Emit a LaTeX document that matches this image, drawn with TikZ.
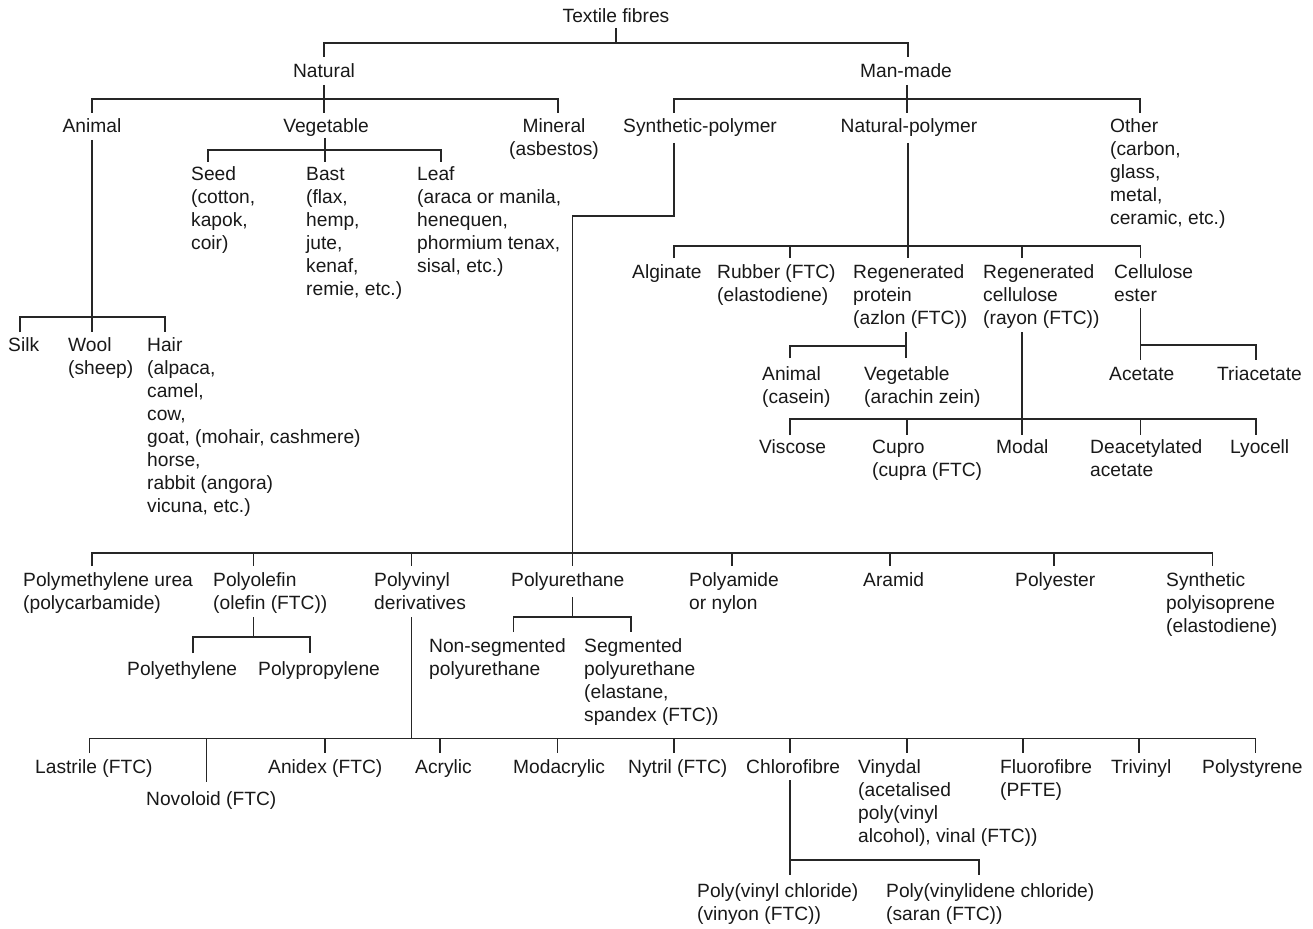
\documentclass[tikz,border=0pt]{standalone}
\usepackage{fontspec}
\setmainfont{Liberation Sans}
\newcommand\TLbox[1]{\begin{tabular}[t]{@{}l@{}}#1\end{tabular}}
\newcommand\TCbox[1]{\begin{tabular}[t]{@{}c@{}}#1\end{tabular}}
\begin{document}
\begin{tikzpicture}[x=1pt,y=-1pt,
  every node/.style={font=\fontsize{19.2}{23}\selectfont, text=black!90, inner sep=0pt},
  tl/.style={anchor=base west},
  tc/.style={anchor=base},
  ln/.style={draw=black!85, line width=1.4pt, line cap=butt, line join=miter}]
\useasboundingbox (0,0) rectangle (1313,928);
\fill[white] (0,0) rectangle (1313,928);

% ---------- nodes ----------
\node[tc] (root) at (616,23) {\TCbox{Textile fibres}};
\node[tc] (natural) at (324,78) {\TCbox{Natural}};
\node[tc] (manmade) at (906,78) {\TCbox{Man-made}};

\node[tc] (animal) at (92,133) {\TCbox{Animal}};
\node[tc] (vegetable) at (326,133) {\TCbox{Vegetable}};
\node[tc] (mineral) at (554,133) {\TCbox{Mineral\\(asbestos)}};
\node[tl] (synthetic) at (623,133) {\TLbox{Synthetic-polymer}};
\node[tc] (natpoly) at (909,133) {\TCbox{Natural-polymer}};
\node[tl] (other) at (1110,133) {\TLbox{Other\\(carbon,\\glass,\\metal,\\ceramic, etc.)}};

\node[tl] (seed) at (191,181) {\TLbox{Seed\\(cotton,\\kapok,\\coir)}};
\node[tl] (bast) at (306,181) {\TLbox{Bast\\(flax,\\hemp,\\jute,\\kenaf,\\remie, etc.)}};
\node[tl] (leaf) at (417,181) {\TLbox{Leaf\\(araca or manila,\\henequen,\\phormium tenax,\\sisal, etc.)}};

\node[tl] (silk) at (8,351) {\TLbox{Silk}};
\node[tl] (wool) at (68,351) {\TLbox{Wool\\(sheep)}};
\node[tl] (hair) at (147,351) {\TLbox{Hair\\(alpaca,\\camel,\\cow,\\goat, (mohair, cashmere)\\horse,\\rabbit (angora)\\vicuna, etc.)}};

\node[tl] (alginate) at (632,278) {\TLbox{Alginate}};
\node[tl] (rubber) at (717,278) {\TLbox{Rubber (FTC)\\(elastodiene)}};
\node[tl] (regprot) at (853,278) {\TLbox{Regenerated\\protein\\(azlon (FTC))}};
\node[tl] (regcell) at (983,278) {\TLbox{Regenerated\\cellulose\\(rayon (FTC))}};
\node[tl] (cellest) at (1114,278) {\TLbox{Cellulose\\ester}};

\node[tl] (anim2) at (762,380) {\TLbox{Animal\\(casein)}};
\node[tl] (veg2) at (864,380) {\TLbox{Vegetable\\(arachin zein)}};
\node[tl] (acetate) at (1109,380) {\TLbox{Acetate}};
\node[tl] (triacetate) at (1217,380) {\TLbox{Triacetate}};

\node[tl] (viscose) at (759,453) {\TLbox{Viscose}};
\node[tl] (cupro) at (872,453) {\TLbox{Cupro\\(cupra (FTC)}};
\node[tl] (modal) at (996,453) {\TLbox{Modal}};
\node[tl] (deacet) at (1090,453) {\TLbox{Deacetylated\\acetate}};
\node[tl] (lyocell) at (1230,453) {\TLbox{Lyocell}};

\node[tl] (polyme) at (23,586) {\TLbox{Polymethylene urea\\(polycarbamide)}};
\node[tl] (polyolefin) at (213,586) {\TLbox{Polyolefin\\(olefin (FTC))}};
\node[tl] (polyvinyl) at (374,586) {\TLbox{Polyvinyl\\derivatives}};
\node[tl] (polyureth) at (511,586) {\TLbox{Polyurethane}};
\node[tl] (polyamide) at (689,586) {\TLbox{Polyamide\\or nylon}};
\node[tl] (aramid) at (863,586) {\TLbox{Aramid}};
\node[tl] (polyester) at (1015,586) {\TLbox{Polyester}};
\node[tl] (synpoly) at (1166,586) {\TLbox{Synthetic\\polyisoprene\\(elastodiene)}};

\node[tl] (polyethylene) at (127,675) {\TLbox{Polyethylene}};
\node[tl] (polypropylene) at (258,675) {\TLbox{Polypropylene}};
\node[tl] (nonseg) at (429,652) {\TLbox{Non-segmented\\polyurethane}};
\node[tl] (seg) at (584,652) {\TLbox{Segmented\\polyurethane\\(elastane,\\spandex (FTC))}};

\node[tl] (lastrile) at (35,773) {\TLbox{Lastrile (FTC)}};
\node[tl] (novoloid) at (146,805) {\TLbox{Novoloid (FTC)}};
\node[tl] (anidex) at (268,773) {\TLbox{Anidex (FTC)}};
\node[tl] (acrylic) at (415,773) {\TLbox{Acrylic}};
\node[tl] (modacrylic) at (513,773) {\TLbox{Modacrylic}};
\node[tl] (nytril) at (628,773) {\TLbox{Nytril (FTC)}};
\node[tl] (chlorofibre) at (746,773) {\TLbox{Chlorofibre}};
\node[tl] (vinydal) at (858,773) {\TLbox{Vinydal\\(acetalised\\poly(vinyl\\alcohol), vinal (FTC))}};
\node[tl] (fluoro) at (1000,773) {\TLbox{Fluorofibre\\(PFTE)}};
\node[tl] (trivinyl) at (1111,773) {\TLbox{Trivinyl}};
\node[tl] (polystyrene) at (1202,773) {\TLbox{Polystyrene}};

\node[tl] (pvc) at (697,897) {\TLbox{Poly(vinyl chloride)\\(vinyon (FTC))}};
\node[tl] (pvdc) at (886,897) {\TLbox{Poly(vinylidene chloride)\\(saran (FTC))}};

% ---------- connectors ----------
% root
\draw[ln] (616,28) -- (616,43);
\draw[ln] (324,57) |- (908,43) -- (908,57);
% natural
\draw[ln] (324,85) -- (324,113);
\draw[ln] (92,113) |- (558,99) -- (558,113);
% man-made
\draw[ln] (907,85) -- (907,113);
\draw[ln] (674,113) |- (1140,99) -- (1140,113);
% vegetable
\draw[ln] (325,138) -- (325,162);
\draw[ln] (208,162) |- (441,150) -- (441,162);
% animal
\draw[ln] (92,140) -- (92,332);
\draw[ln] (20,332) |- (165,317) -- (165,332);
% synthetic-polymer
\draw[ln] (674,143) |- (572.5,216) -- (572.5,566);
\draw[ln] (92,566) |- (1212.5,553) -- (1212.5,566);
\foreach \x in {253.4,411.6,732,890,1054} \draw[ln] (\x,553) -- (\x,566);
% natural-polymer
\draw[ln] (908,143) -- (908,258);
\draw[ln] (674,258) |- (1140.6,246) -- (1140.6,258);
\foreach \x in {790,1022} \draw[ln] (\x,246) -- (\x,258);
% regenerated protein
\draw[ln] (906,332) -- (906,358);
\draw[ln] (790,358) |- (906,346);
% cellulose ester
\draw[ln] (1140.6,308) -- (1140.6,360);
\draw[ln] (1140.6,345) -| (1256,360);
% regenerated cellulose
\draw[ln] (1022,332) -- (1022,435);
\draw[ln] (790,435) |- (1256,419) -- (1256,435);
\foreach \x in {907,1140.6} \draw[ln] (\x,419) -- (\x,435);
% polyolefin
\draw[ln] (253.4,617) -- (253.4,637);
\draw[ln] (193,653) |- (310,637) -- (310,653);
% polyurethane
\draw[ln] (572.4,597) -- (572.4,617);
\draw[ln] (513.5,632) |- (631,617) -- (631,632);
% polyvinyl derivatives
\draw[ln] (411.6,617) -- (411.6,738.3);
\draw[ln] (89.7,753) |- (1255.7,738.3) -- (1255.7,753);
\draw[ln] (206.2,738.3) -- (206.2,782);
\foreach \x in {325,440,557.7,674,790,907,1023,1139} \draw[ln] (\x,738.3) -- (\x,753);
% chlorofibre
\draw[ln] (790,780) -- (790,875);
\draw[ln] (790,860) -| (979,875);
\end{tikzpicture}
\end{document}
